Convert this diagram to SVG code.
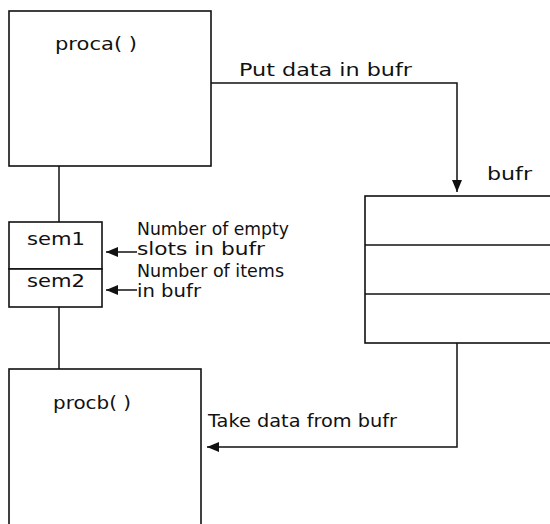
<svg xmlns="http://www.w3.org/2000/svg" width="550" height="524" viewBox="0 0 550 524">
<defs>
<style>
.box{fill:#fff;stroke:#111;stroke-width:1.6}
.ln{fill:none;stroke:#111;stroke-width:1.5}
text{font-family:"DejaVu Sans","Liberation Sans",sans-serif;font-size:18px;fill:#111}
text.sm{font-size:17px}
</style>
<marker id="ah" viewBox="0 0 12 10" refX="12" refY="5" markerWidth="12" markerHeight="10" markerUnits="userSpaceOnUse" orient="auto">
<path d="M0,0 L12,5 L0,10 Z" fill="#111"/>
</marker>
</defs>
<rect width="550" height="524" fill="#fff"/>
<g id="connectors">
<line class="ln" x1="59" y1="166" x2="59" y2="222"/>
<line class="ln" x1="59" y1="307" x2="59" y2="369"/>
<polyline class="ln" points="211,83 457,83 457,192" marker-end="url(#ah)"/>
<polyline class="ln" points="457,343 457,447 207,447" marker-end="url(#ah)"/>
<line class="ln" x1="137" y1="252" x2="106" y2="252" marker-end="url(#ah)"/>
<line class="ln" x1="137" y1="290" x2="106" y2="290" marker-end="url(#ah)"/>
<text x="239" y="76" textLength="173" lengthAdjust="spacingAndGlyphs">Put data in bufr</text>
<text x="208" y="427" textLength="189" lengthAdjust="spacingAndGlyphs">Take data from bufr</text>
<text class="sm" x="137" y="235" textLength="152" lengthAdjust="spacingAndGlyphs">Number of empty</text>
<text class="sm" x="137" y="255" textLength="128" lengthAdjust="spacingAndGlyphs">slots in bufr</text>
<text class="sm" x="137" y="277" textLength="147" lengthAdjust="spacingAndGlyphs">Number of items</text>
<text class="sm" x="137" y="297" textLength="64" lengthAdjust="spacingAndGlyphs">in bufr</text>
</g>
<g id="proca">
<rect class="box" x="9" y="11" width="202" height="155"/>
<text x="55" y="50" textLength="82" lengthAdjust="spacingAndGlyphs">proca( )</text>
</g>
<g id="sem1">
<rect class="box" x="9" y="222" width="93" height="47"/>
<text x="27" y="245" textLength="58" lengthAdjust="spacingAndGlyphs">sem1</text>
</g>
<g id="sem2">
<rect class="box" x="9" y="269" width="93" height="38"/>
<text x="27" y="287" textLength="58" lengthAdjust="spacingAndGlyphs">sem2</text>
</g>
<g id="procb">
<rect class="box" x="9" y="369" width="192" height="170"/>
<text x="53" y="409" textLength="78" lengthAdjust="spacingAndGlyphs">procb( )</text>
</g>
<g id="bufr">
<rect class="box" x="365" y="196" width="200" height="147"/>
<line class="ln" x1="365" y1="245" x2="550" y2="245"/>
<line class="ln" x1="365" y1="294" x2="550" y2="294"/>
<text x="487" y="180" textLength="45" lengthAdjust="spacingAndGlyphs">bufr</text>
</g>
</svg>
